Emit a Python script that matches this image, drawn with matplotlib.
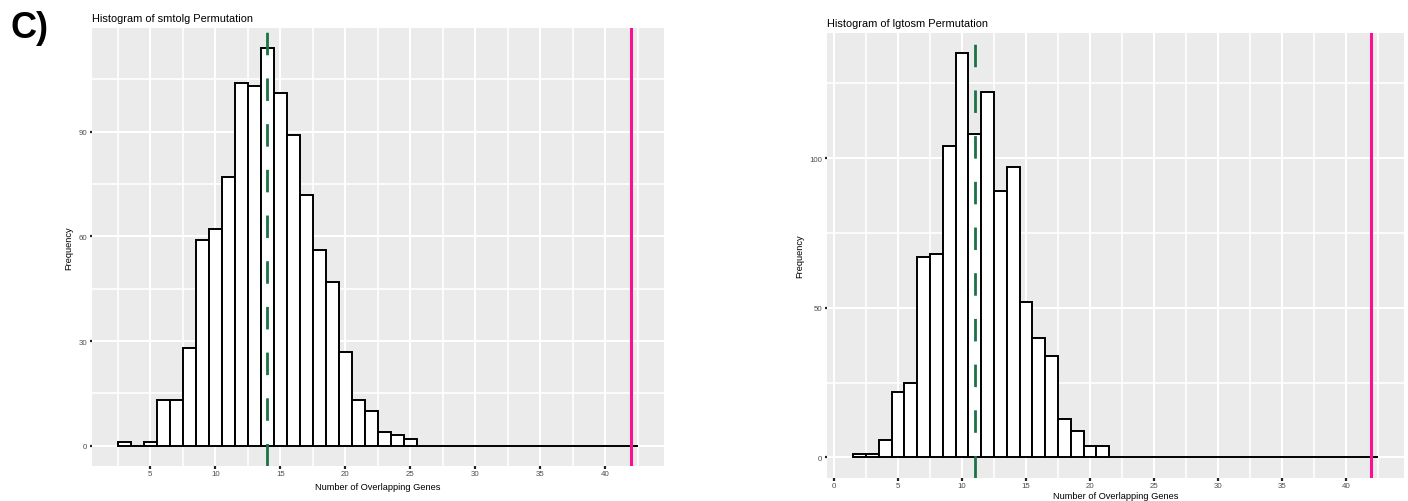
import matplotlib
matplotlib.use("Agg")
import matplotlib.pyplot as plt
import numpy as np

plt.rcParams['font.family'] = ['Liberation Sans', 'DejaVu Sans']

# permutation histograms, one bin per integer overlap count
smtolg_bins = np.arange(3, 43)
smtolg_counts = [1, 0, 1, 13, 13, 28, 59, 62, 77, 104, 103, 114, 101, 89, 72,
                 56, 47, 27, 13, 10, 4, 3, 2] + [0] * 17
smtolg_mean = 14
smtolg_observed = 42

lgtosm_bins = np.arange(2, 43)
lgtosm_counts = [1, 1, 6, 22, 25, 67, 68, 104, 135, 108, 122, 89, 97, 52, 40,
                 34, 13, 9, 4, 4] + [0] * 21
lgtosm_mean = 11
lgtosm_observed = 42

PANEL = '#EBEBEB'
GREEN = '#1b7245'
PINK = '#FA1090'


def ggplot_hist(ax, bins, counts, mean, observed, title, xticks, yticks, xlim, ylim,
                xlabelpad=3.0):
    ax.set_facecolor(PANEL)
    for s in ax.spines.values():
        s.set_visible(False)

    # grid: majors at the ticks, minors halfway between
    xt = np.array(xticks, dtype=float)
    yt = np.array(yticks, dtype=float)
    xminor = np.arange(xt[0] - 2.5, xlim[1], 5.0)
    ystep = yt[1] - yt[0]
    yminor = np.append(yt[:-1] + ystep / 2, yt[-1] + ystep / 2)
    for v in xminor:
        ax.axvline(v, color='white', lw=1.2, zorder=0)
    for v in xt:
        ax.axvline(v, color='white', lw=1.5, zorder=0)
    for v in yminor:
        ax.axhline(v, color='white', lw=1.2, zorder=0)
    for v in yt:
        ax.axhline(v, color='white', lw=1.5, zorder=0)

    ax.bar(bins, counts, width=1.0, color='white', edgecolor='black',
           linewidth=1.4, zorder=2)
    ax.axvline(mean, color=GREEN, lw=2.0, linestyle=(0, (8.1, 8.35)), zorder=3)
    ax.axvline(observed, color=PINK, lw=2.2, zorder=3)

    ax.set_xlim(*xlim)
    ax.set_ylim(*ylim)
    ax.set_xticks(xticks)
    ax.set_yticks(yticks)
    ax.tick_params(length=1.8, width=1.6, color='#222222', labelsize=5.7,
                   labelcolor='#4D4D4D', pad=1.5)
    ax.set_xlabel('Number of Overlapping Genes', fontsize=6.7, labelpad=xlabelpad)
    ax.set_ylabel('Frequency', fontsize=6.7, labelpad=4)
    ax.set_title(title, loc='left', fontsize=7.9, pad=5)


fig = plt.figure(figsize=(14.08, 5.02), dpi=100)

ax1 = fig.add_axes([0.0651, 0.0703, 0.4065, 0.8719])
ggplot_hist(ax1, smtolg_bins, smtolg_counts, smtolg_mean, smtolg_observed,
            'Histogram of smtolg Permutation',
            [5, 10, 15, 20, 25, 30, 35, 40], [0, 30, 60, 90],
            (0.5, 44.5), (-5.7, 119.7), xlabelpad=3.5)

ax2 = fig.add_axes([0.5874, 0.0464, 0.4098, 0.8859])
ggplot_hist(ax2, lgtosm_bins, lgtosm_counts, lgtosm_mean, lgtosm_observed,
            'Histogram of lgtosm Permutation',
            [0, 5, 10, 15, 20, 25, 30, 35, 40], [0, 50, 100],
            (-0.55, 44.55), (-6.75, 141.75), xlabelpad=1.0)

fig.text(0.0075, 0.925, 'C)', fontsize=26, fontweight='bold', ha='left', va='baseline')

fig.savefig('out.png', dpi=100)
